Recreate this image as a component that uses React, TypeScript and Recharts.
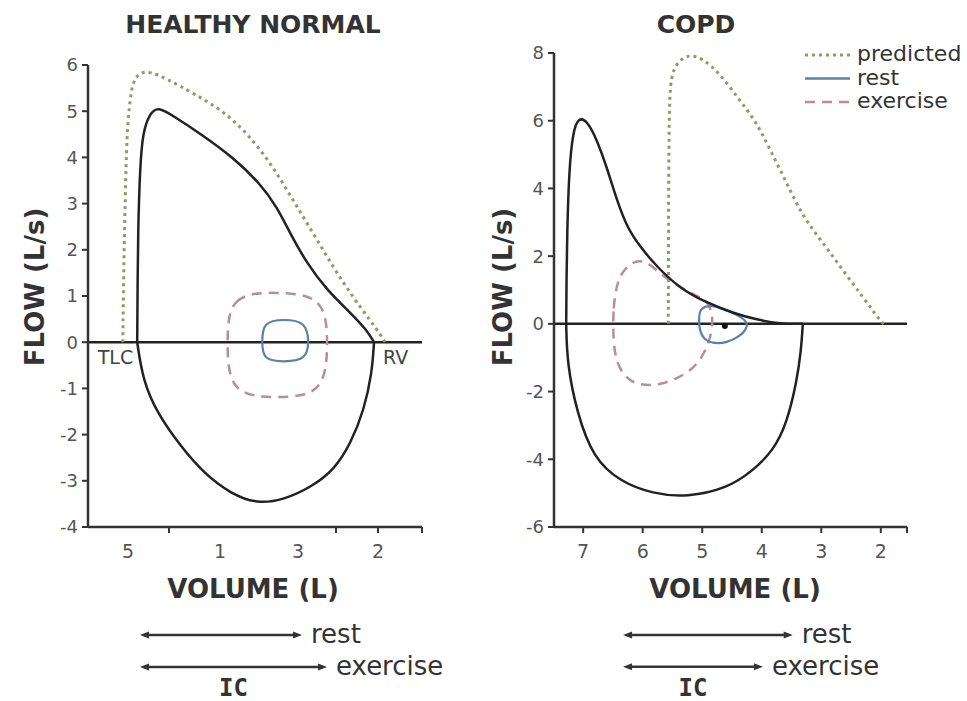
import React from 'react';
import { LineChart, Line, XAxis, YAxis, ReferenceLine, ReferenceDot } from 'recharts';

// ---- HEALTHY NORMAL: volume (L) / flow (L/s) ----
const normalExpVol = [5.01, 5.005, 5.0, 4.975, 4.94, 4.85, 4.75, 4.56, 4.225, 3.81, 3.475, 3.26, 3.1, 2.89, 2.64, 2.34, 2.14, 2.05];
const normalExpFlow = [0, 1.2, 2.36, 3.79, 4.55, 4.96, 5.1, 4.9, 4.52, 4.0, 3.44, 2.92, 2.36, 1.71, 1.13, 0.63, 0.26, 0];
const normalInspVol = [5.01, 4.94, 4.76, 4.46, 4.175, 3.84, 3.51, 3.175, 2.84, 2.55, 2.34, 2.175, 2.075, 2.05];
const normalInspFlow = [0, -0.82, -1.54, -2.27, -2.84, -3.28, -3.5, -3.41, -3.14, -2.77, -2.19, -1.47, -0.67, 0];
const normalPredVol = [5.19, 5.18, 5.16, 5.14, 5.1, 5.06, 4.975, 4.85, 4.64, 4.31, 3.89, 3.56, 3.31, 3.06, 2.81, 2.56, 2.31, 2.1, 1.95, 1.91];
const normalPredFlow = [0, 1.5, 3.07, 4.52, 5.26, 5.66, 5.84, 5.86, 5.7, 5.39, 4.96, 4.37, 3.79, 3.07, 2.36, 1.62, 0.97, 0.48, 0.11, 0];
const normalRestVol = [3.45, 3.44, 3.175, 2.9, 2.86, 2.9, 3.175, 3.44];
const normalRestFlow = [0, 0.44, 0.5, 0.44, 0, -0.38, -0.43, -0.38];
const normalExVol = [3.8875, 3.8625, 3.2625, 2.6625, 2.625, 2.6625, 3.2625, 3.8625];
const normalExFlow = [0, 1.04, 1.09, 1.0, 0, -1.14, -1.21, -1.14];

const normalFlowTicks = [6, 5, 4, 3, 2, 1, 0, -1, -2, -3, -4];
const normalVolLabels = ['5', '1', '3', '2'];
const normalVolLabelAt = [5.125, 3.975, 3.0, 2.0];
const normalVolMarkAt = [4.6125, 2.525, 2.0, 1.45];

// ---- COPD ----
const copdExpVol = [7.285, 7.28, 7.27, 7.235, 7.17, 7.08, 6.93, 6.765, 6.6, 6.43, 6.26, 6.04, 5.76, 5.37, 4.92, 4.48, 4.08, 3.69, 3.31];
const copdExpFlow = [0, 1.3, 2.66, 4.61, 5.68, 6.1, 6.0, 5.42, 4.61, 3.63, 2.84, 2.27, 1.68, 1.04, 0.62, 0.32, 0.12, 0, 0];
const copdInspVol = [7.285, 7.27, 7.1, 6.83, 6.38, 5.83, 5.255, 4.58, 4.15, 3.81, 3.58, 3.41, 3.34, 3.31];
const copdInspFlow = [0, -1.18, -2.66, -3.96, -4.66, -5.02, -5.12, -4.86, -4.34, -3.75, -2.95, -1.68, -0.8, 0];
const copdPredVol = [5.57, 5.565, 5.555, 5.51, 5.37, 5.2, 4.99, 4.7, 4.37, 4.08, 3.86, 3.58, 3.31, 2.97, 2.64, 2.3, 2.02, 1.95];
const copdPredFlow = [0, 3.65, 6.7, 7.45, 7.82, 7.95, 7.84, 7.38, 6.61, 5.93, 5.14, 4.16, 3.16, 2.39, 1.59, 0.79, 0.11, 0];
const copdRestVol = [5.037, 4.836, 4.617, 4.4, 4.23, 4.265, 4.366, 4.58, 4.836, 5.0, 5.054, 5.054];
const copdRestFlow = [0.47, 0.56, 0.41, 0.26, 0.056, -0.18, -0.36, -0.56, -0.59, -0.42, -0.09, 0.2];
const copdExVol = [6.497, 6.497, 6.43, 6.33, 6.094, 5.876, 5.624, 5.372, 5.087, 4.886, 4.81, 4.87, 4.99, 5.17, 5.456, 5.79, 6.08, 6.295, 6.446];
const copdExFlow = [-0.476, 0.5, 1.21, 1.59, 1.92, 1.77, 1.36, 1.09, 0.82, 0.65, 0.12, -0.48, -0.95, -1.36, -1.65, -1.83, -1.8, -1.59, -1.13];

const copdFlowTicks = [8, 6, 4, 2, 0, -2, -4, -6];
const copdVolLabels = ['7', '6', '5', '4', '3', '2'];
const copdVolLabelAt = [7, 6, 5, 4, 3, 2];
const copdVolMarkAt = [7, 6, 5, 4, 3, 2, 1.56];

// inspiratory capacity arrows: [from, to] volume, and the flow row they sit on
const normalIcRest = [4.975, 2.95];
const normalIcExercise = [4.975, 2.6375];
const normalIcRows = [-6.34, -7.03];
const copdIcRest = [6.33, 3.48];
const copdIcExercise = [6.33, 3.98];
const copdIcRows = [-9.19, -10.13];

const legendNames = ['predicted', 'rest', 'exercise'];

const FONT = "'DejaVu Sans', sans-serif";
const INK = '#333';
const LOOP = '#222';
const PRED = '#8e9b68';
const REST = '#5a7fb0';
const EXER = '#b98d9b';

const zip = (v: number[], f: number[]) => v.map((x, i) => ({ v: x, f: f[i] }));

const VolumeTick = (labels: string[], labelAt: number[], marks: number[]) => (props: any) => {
	const { x, y, payload } = props;
	const val = payload.value;
	const axisY = y - 8;
	const li = labelAt.findIndex((a) => Math.abs(a - val) < 1e-6);
	const isMark = marks.some((m) => Math.abs(m - val) < 1e-6);
	return (
		<g>
			{isMark && <line x1={x} y1={axisY} x2={x} y2={axisY + 6} stroke={INK} strokeWidth={2} />}
			{li >= 0 && (
				<text x={x} y={axisY + 31} textAnchor="middle" fontSize={19} fill="#555" fontFamily={FONT}>
					{labels[li]}
				</text>
			)}
		</g>
	);
};

const Arrow = (text: string, withIC: boolean) => (props: any) => {
	const { x1, y1, x2 } = props;
	const left = Math.min(x1, x2);
	const right = Math.max(x1, x2);
	const y = y1;
	return (
		<g>
			<line x1={left + 4} y1={y} x2={right - 4} y2={y} stroke={INK} strokeWidth={2.5} />
			<polygon points={`${left},${y} ${left + 9},${y - 3.5} ${left + 9},${y + 3.5}`} fill={INK} />
			<polygon points={`${right},${y} ${right - 9},${y - 3.5} ${right - 9},${y + 3.5}`} fill={INK} />
			<text x={right + 9} y={y + 8} fontSize={26} fill={INK} fontFamily={FONT}>
				{text}
			</text>
			{withIC && (
				<text x={(left + right) / 2} y={y + 29} textAnchor="middle" fontSize={24} fontWeight="bold" fill={INK} fontFamily="'DejaVu Sans Mono', monospace">
					IC
				</text>
			)}
		</g>
	);
};

const PointLabel = (text: string, dx: number, anchor: 'start' | 'end') => (props: any) => (
	<text x={props.cx + dx} y={props.cy + 22} textAnchor={anchor} fontSize={19} fill="#444" fontFamily={FONT}>
		{text}
	</text>
);

interface PanelProps {
	domain: [number, number];
	flowDomain: [number, number];
	flowTicks: number[];
	volLabels: string[];
	volLabelAt: number[];
	volMarkAt: number[];
	exp: { v: number; f: number }[];
	insp: { v: number; f: number }[];
	pred: { v: number; f: number }[];
	rest: { v: number; f: number }[];
	ex: { v: number; f: number }[];
	icRest: number[];
	icExercise: number[];
	icRows: number[];
	width: number;
	margin: { top: number; right: number; bottom: number; left: number };
	children?: React.ReactNode;
}

function Panel(p: PanelProps) {
	const ticks = Array.from(new Set([...p.volLabelAt, ...p.volMarkAt])).sort((a, b) => b - a);
	return (
		<LineChart width={p.width} height={701} margin={p.margin}>
			<XAxis
				type="number"
				dataKey="v"
				domain={p.domain}
				reversed
				allowDataOverflow
				ticks={ticks}
				interval={0}
				tickSize={6}
				tickMargin={2}
				tickLine={false}
				tick={VolumeTick(p.volLabels, p.volLabelAt, p.volMarkAt)}
				axisLine={{ stroke: INK, strokeWidth: 2.5 }}
				height={40}
			/>
			<YAxis
				type="number"
				domain={p.flowDomain}
				ticks={p.flowTicks}
				interval={0}
				width={40}
				tickSize={6}
				tickMargin={4}
				tick={{ fill: '#555', fontSize: 18, fontFamily: FONT }}
				tickLine={{ stroke: INK, strokeWidth: 2 }}
				axisLine={{ stroke: INK, strokeWidth: 2.5 }}
			/>
			<ReferenceLine y={0} stroke={LOOP} strokeWidth={2.5} />
			<Line data={p.pred} dataKey="f" type="basis" stroke={PRED} strokeWidth={3} strokeDasharray="3 4" dot={false} isAnimationActive={false} />
			<Line data={p.ex} dataKey="f" type="basisClosed" stroke={EXER} strokeWidth={2.5} strokeDasharray="10 7" dot={false} isAnimationActive={false} />
			<Line data={p.rest} dataKey="f" type="basisClosed" stroke={REST} strokeWidth={2.2} dot={false} isAnimationActive={false} />
			<Line data={p.exp} dataKey="f" type="basis" stroke={LOOP} strokeWidth={2.5} dot={false} isAnimationActive={false} />
			<Line data={p.insp} dataKey="f" type="basis" stroke={LOOP} strokeWidth={2.5} dot={false} isAnimationActive={false} />
			<ReferenceLine
				ifOverflow="visible"
				segment={[{ x: p.icRest[0], y: p.icRows[0] }, { x: p.icRest[1], y: p.icRows[0] }]}
				shape={Arrow('rest', false)}
			/>
			<ReferenceLine
				ifOverflow="visible"
				segment={[{ x: p.icExercise[0], y: p.icRows[1] }, { x: p.icExercise[1], y: p.icRows[1] }]}
				shape={Arrow('exercise', true)}
			/>
			{p.children}
		</LineChart>
	);
}

const legendStyles = [
	{ stroke: PRED, dash: '3 4', width: 3 },
	{ stroke: REST, dash: undefined, width: 2.5 },
	{ stroke: EXER, dash: '10 7', width: 2.5 },
];

export default function App() {
	return (
		<div style={{ position: 'absolute', left: 0, top: 0, width: 967, height: 701, background: '#fff', fontFamily: FONT, overflow: 'hidden' }}>
			<div style={{ position: 'absolute', left: 0, top: 0 }}>
				<Panel
					width={480}
					margin={{ top: 65, right: 58, bottom: 134, left: 48 }}
					domain={[1.45, 5.625]}
					flowDomain={[-4, 6]}
					flowTicks={normalFlowTicks}
					volLabels={normalVolLabels}
					volLabelAt={normalVolLabelAt}
					volMarkAt={normalVolMarkAt}
					exp={zip(normalExpVol, normalExpFlow)}
					insp={zip(normalInspVol, normalInspFlow)}
					pred={zip(normalPredVol, normalPredFlow)}
					rest={zip(normalRestVol, normalRestFlow)}
					ex={zip(normalExVol, normalExFlow)}
					icRest={normalIcRest}
					icExercise={normalIcExercise}
					icRows={normalIcRows}
				>
					<ReferenceDot x={normalExpVol[0]} y={0} r={0} ifOverflow="visible" shape={PointLabel('TLC', -4, 'end')} />
					<ReferenceDot x={normalExpVol[normalExpVol.length - 1]} y={0} r={0} ifOverflow="visible" shape={PointLabel('RV', 9, 'start')} />
				</Panel>
			</div>
			<div style={{ position: 'absolute', left: 480, top: 0 }}>
				<Panel
					width={487}
					margin={{ top: 53, right: 60, bottom: 134, left: 34 }}
					domain={[1.56, 7.49]}
					flowDomain={[-6, 8]}
					flowTicks={copdFlowTicks}
					volLabels={copdVolLabels}
					volLabelAt={copdVolLabelAt}
					volMarkAt={copdVolMarkAt}
					exp={zip(copdExpVol, copdExpFlow)}
					insp={zip(copdInspVol, copdInspFlow)}
					pred={zip(copdPredVol, copdPredFlow)}
					rest={zip(copdRestVol, copdRestFlow)}
					ex={zip(copdExVol, copdExFlow)}
					icRest={copdIcRest}
					icExercise={copdIcExercise}
					icRows={copdIcRows}
				>
					<ReferenceDot x={4.62} y={-0.06} r={3} fill="#111" stroke="none" />
				</Panel>
			</div>
			<svg width={967} height={701} style={{ position: 'absolute', left: 0, top: 0, pointerEvents: 'none' }}>
				<g fontFamily={FONT} fill={INK}>
					<text x={253} y={33} textAnchor="middle" fontSize={25} fontWeight="bold">HEALTHY NORMAL</text>
					<text x={696} y={33} textAnchor="middle" fontSize={25} fontWeight="bold">COPD</text>
					<text x={253} y={598} textAnchor="middle" fontSize={26} fontWeight="bold">VOLUME (L)</text>
					<text x={735} y={598} textAnchor="middle" fontSize={26} fontWeight="bold">VOLUME (L)</text>
					<text x={44} y={287} textAnchor="middle" fontSize={26} fontWeight="bold" transform="rotate(-90 44 287)">FLOW (L/s)</text>
					<text x={512} y={287} textAnchor="middle" fontSize={26} fontWeight="bold" transform="rotate(-90 512 287)">FLOW (L/s)</text>
				</g>
				{legendNames.map((name, i) => {
					const y = 55 + i * 23.5;
					const s = legendStyles[i];
					return (
						<g key={name}>
							<line x1={805} y1={y} x2={850} y2={y} stroke={s.stroke} strokeWidth={s.width} strokeDasharray={s.dash} />
							<text x={857} y={y + 6} fontSize={22} fill={INK} fontFamily={FONT}>{name}</text>
						</g>
					);
				})}
			</svg>
		</div>
	);
}
